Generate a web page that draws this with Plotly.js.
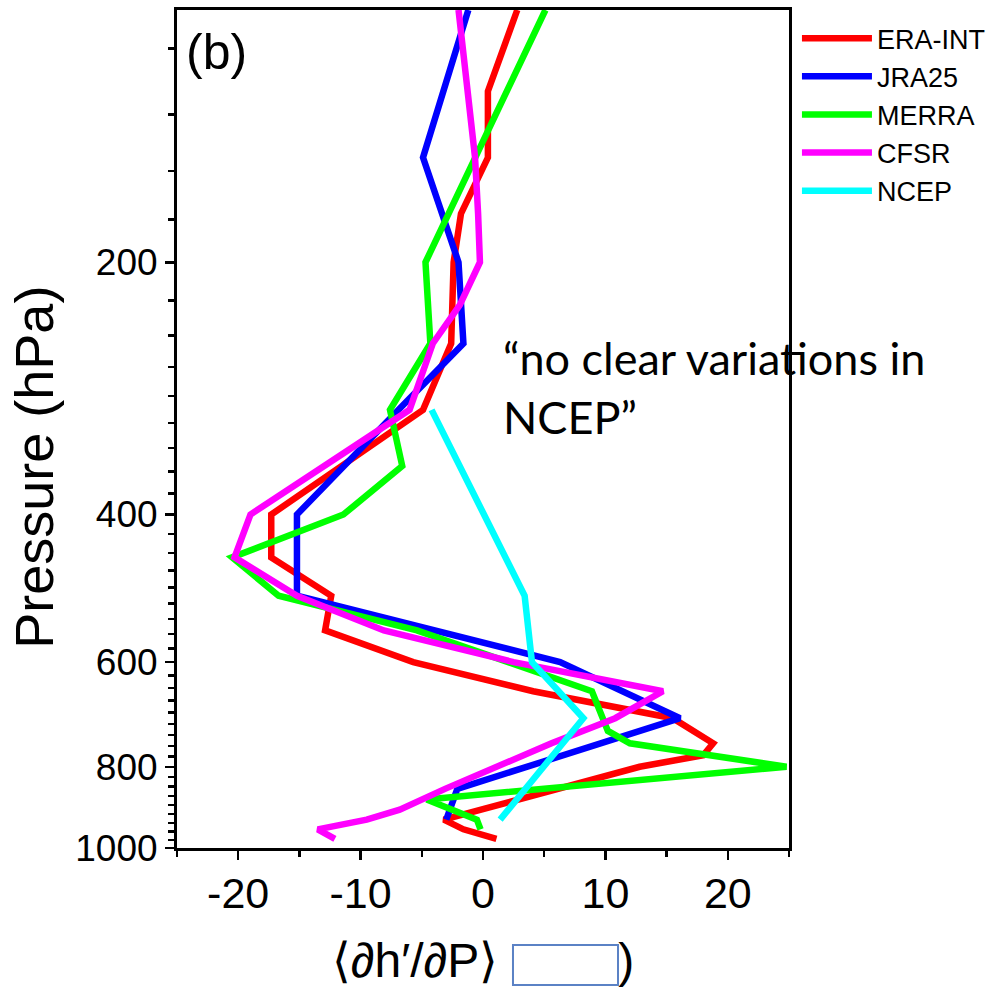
<!DOCTYPE html>
<html>
<head>
<meta charset="utf-8">
<script src="https://cdn.plot.ly/plotly-3.0.1.min.js"></script>
<style>html,body{margin:0;padding:0;background:#fff;}#chart{width:1002px;height:987px;}</style>
</head>
<body>
<div id="chart"></div>
<script>
// ---- data (x = <dh'/dP>, p = pressure hPa) ----
const eraP = [100,125,150,175,200,225,250,300,350,400,450,500,550,600,650,700,750,775,800,850,925,950,975];
const eraX = [2.8,0.4,0.4,-1.8,-2.4,-2.5,-2.6,-4.9,-11.5,-17.3,-17.3,-12.4,-12.9,-5.7,4.1,15.5,18.8,18.0,12.8,6.3,-3.2,-1.6,1.1];

const jraP = [100,150,200,250,300,400,500,600,700,850,925];
const jraX = [-1.2,-4.9,-2.0,-1.6,-6.9,-15.2,-15.2,6.3,16.1,-2.1,-3.0];

const merraP = [100,200,250,300,350,400,450,500,550,600,650,725,750,800,875,925,950];
const merraX = [5.1,-4.7,-4.3,-7.6,-6.6,-11.4,-20.5,-16.7,-5.4,2.0,8.9,10.2,12.0,24.8,-4.6,-0.5,-0.2];

const cfsrP = [100,125,150,175,200,225,250,300,400,450,500,550,600,650,700,750,800,850,900,925,950,975];
const cfsrX = [-2.0,-1.3,-0.65,-0.4,-0.25,-1.9,-4.1,-6.0,-19.0,-20.3,-15.2,-8.1,2.5,14.7,10.8,5.6,1.0,-3.1,-6.8,-9.5,-13.5,-12.1];

const ncepP = [300,500,600,700,925];
const ncepX = [-4.2,3.4,4.0,8.2,1.4];

const seriesNames = ['ERA-INT','JRA25','MERRA','CFSR','NCEP'];
const seriesColors = ['#ff0000','#0000ff','#00ff00','#ff00ff','#00ffff'];

const xTickVals = [-20,-10,0,10,20];
const xTickText = ['-20','-10','0','10','20'];
const xMinorVals = [-25,-15,-5,5,15,25];
const yTickVals = [200,400,600,800,1000];
const yTickText = ['200','400','600','800','1000'];

// minor pressure ticks every 200/9 hPa (axis decoration)
const yMinorVals = [];
for (let k = -4; k <= 36; k++) { yMinorVals.push(200 + k * 200 / 9); }

const allX = [eraX, jraX, merraX, cfsrX, ncepX];
const allP = [eraP, jraP, merraP, cfsrP, ncepP];

const traces = allX.map((xs, i) => ({
  type: 'scatter', mode: 'lines',
  x: xs, y: allP[i], name: seriesNames[i],
  line: {color: seriesColors[i], width: 6.5},
  hoverinfo: 'skip'
}));

const font = 'Liberation Sans, Arial, sans-serif';

const layout = {
  width: 1002, height: 987,
  margin: {l: 177, r: 213, t: 10, b: 139},
  paper_bgcolor: '#ffffff', plot_bgcolor: '#ffffff',
  showlegend: true,
  legend: {
    x: 1.013, xanchor: 'left', y: 0.995, yanchor: 'top',
    font: {family: font, size: 27, color: '#000'},
    bgcolor: 'rgba(0,0,0,0)', borderwidth: 0,
    itemwidth: 70
  },
  xaxis: {
    range: [-25, 25], autorange: false,
    tickmode: 'array', tickvals: xTickVals, ticktext: xTickText,
    ticks: 'outside', ticklen: 9, tickwidth: 2.5, tickcolor: '#000',
    minor: {tickmode: 'array', tickvals: xMinorVals, ticks: 'outside', ticklen: 6, tickwidth: 2.5, tickcolor: '#000'},
    showline: true, linewidth: 3, linecolor: '#000', mirror: true,
    showgrid: false, zeroline: false,
    tickfont: {family: font, size: 43, color: '#000'},
    ticklabelstandoff: -4,
    title: {text: '\u27E8\u2202h\u2032/\u2202P\u27E9\u2002\u2003\u2003)', font: {family: font, size: 48, color: '#000'}, standoff: 32},
    automargin: false
  },
  yaxis: {
    type: 'log', range: [3, 2], autorange: false,
    tickmode: 'array', tickvals: yTickVals, ticktext: yTickText,
    ticks: 'outside', ticklen: 9, tickwidth: 2.5, tickcolor: '#000',
    minor: {tickmode: 'array', tickvals: yMinorVals, ticks: 'outside', ticklen: 6, tickwidth: 2.5, tickcolor: '#000'},
    showline: true, linewidth: 3, linecolor: '#000', mirror: true,
    showgrid: false, zeroline: false,
    tickfont: {family: font, size: 37, color: '#000'},
    automargin: false
  },
  annotations: [
    {text: 'Pressure (hPa)', xref: 'paper', yref: 'paper', x: -0.234, y: 0.4547, xanchor: 'center', yanchor: 'middle',
     textangle: -90, showarrow: false, font: {family: font, size: 54, color: '#000'}},
    {text: '(b)', xref: 'paper', yref: 'paper', x: 0.012, y: 0.986, xanchor: 'left', yanchor: 'top',
     showarrow: false, font: {family: font, size: 50, color: '#000'}},
    {text: '\u201Cno clear variations in<br>NCEP\u201D', xref: 'paper', yref: 'paper', x: 0.53, y: 0.619,
     xanchor: 'left', yanchor: 'top', align: 'left', showarrow: false,
     font: {family: 'Lato, Open Sans, sans-serif', size: 45, color: '#000'}}
  ],
  shapes: [
    {type: 'rect', xref: 'paper', yref: 'paper', x0: 0.549, x1: 0.7206, y0: -0.1158, y1: -0.1635,
     line: {color: '#5b82c5', width: 2}, fillcolor: '#ffffff', layer: 'above'}
  ]
};

Plotly.newPlot('chart', traces, layout, {displayModeBar: false, staticPlot: true});
</script>
</body>
</html>
